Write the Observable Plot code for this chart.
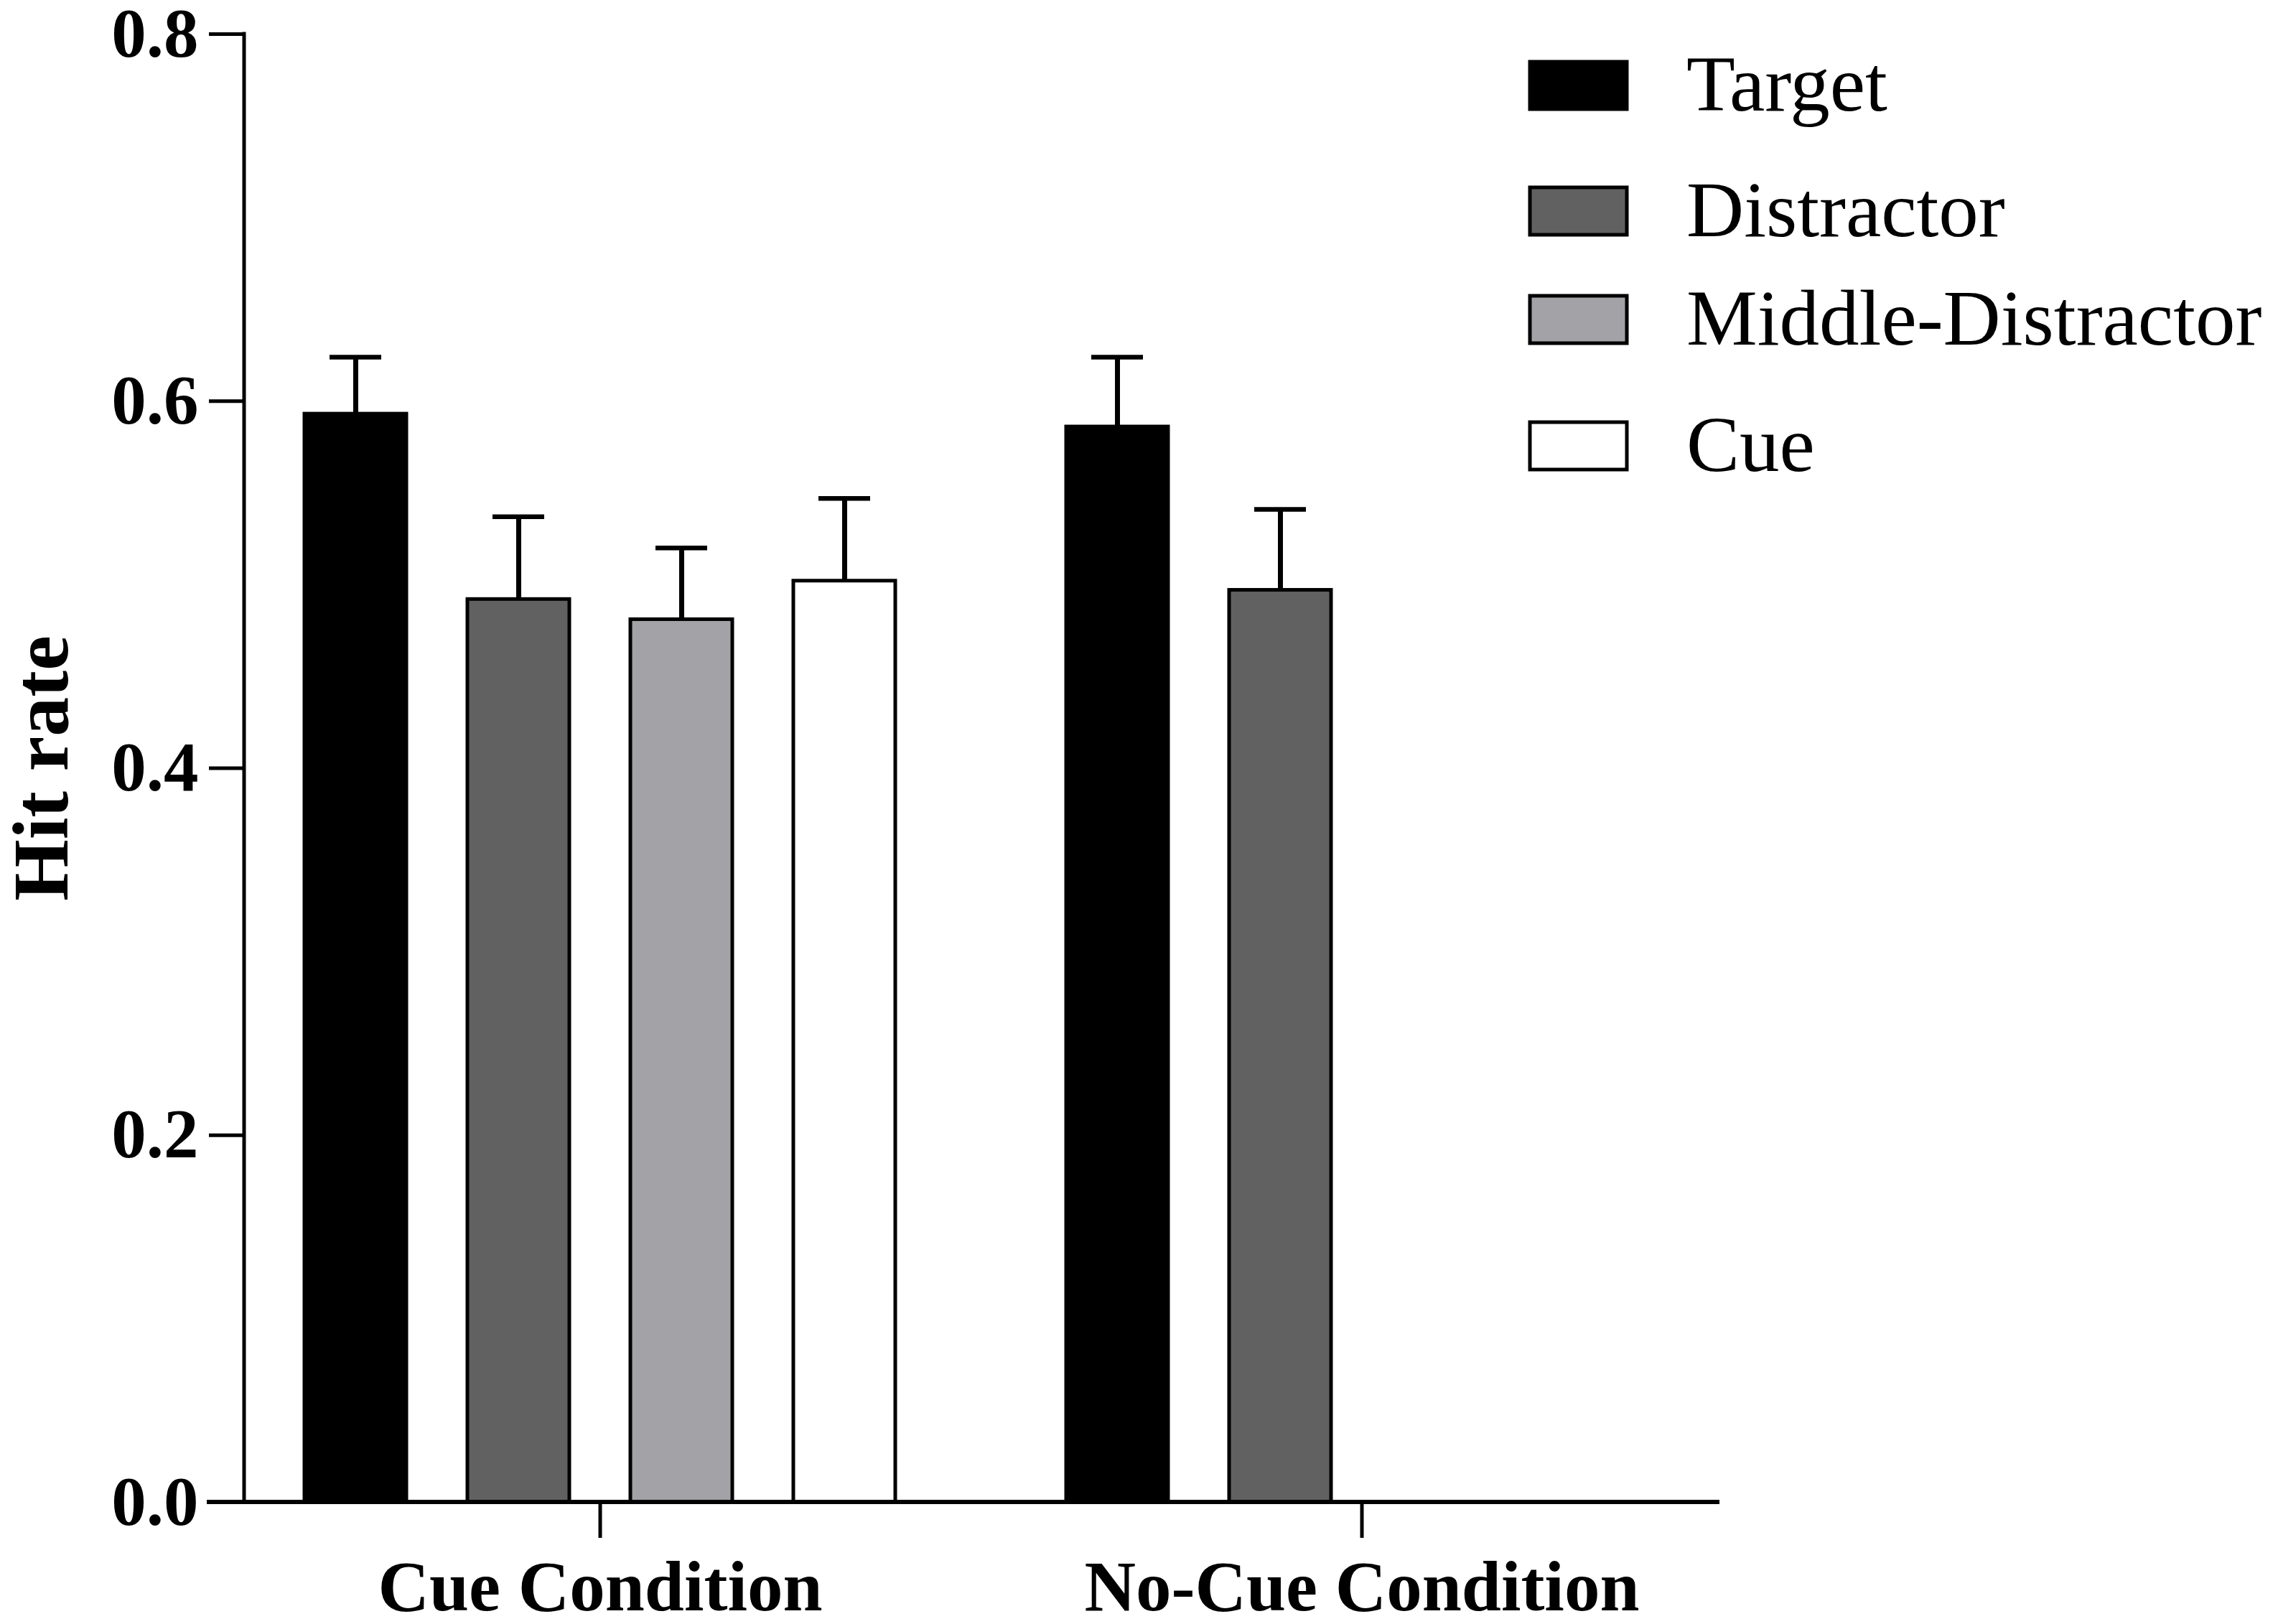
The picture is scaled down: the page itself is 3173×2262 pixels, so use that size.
<!DOCTYPE html>
<html><head><meta charset="utf-8">
<script src="https://cdn.jsdelivr.net/npm/d3@7"></script>
<script src="https://cdn.jsdelivr.net/npm/@observablehq/plot@0.6"></script>
<style>
html,body{margin:0;padding:0;background:#fff;}
#wrap{position:relative;width:3173px;height:2262px;}
#wrap svg{position:absolute;left:0;top:0;}
</style></head><body><div id="wrap"></div>
<script>
const conditions = ["Cue Condition", "No-Cue Condition"];
const seriesNames = ["Target", "Distractor", "Middle-Distractor", "Cue"];
const seriesColors = ["#000000", "#616161", "#a3a2a7", "#ffffff"];
const cueValues = [0.593, 0.492, 0.481, 0.502];
const cueErrors = [0.031, 0.045, 0.039, 0.045];
const noCueValues = [0.586, 0.497];
const noCueErrors = [0.038, 0.044];
const yTicks = [0, 0.2, 0.4, 0.6, 0.8];
const yLabel = "Hit rate";

const rows = [];
cueValues.forEach((v, i) => rows.push({condition: conditions[0], series: seriesNames[i], value: v, err: cueErrors[i]}));
noCueValues.forEach((v, i) => rows.push({condition: conditions[1], series: seriesNames[i], value: v, err: noCueErrors[i]}));

const W = 3173, H = 2262;
const font = "'Liberation Serif','Times New Roman',serif";
const yTickSize = 49;

const plot = Plot.plot({
  width: W, height: H,
  marginLeft: 340, marginRight: 781, marginTop: 47, marginBottom: 170,
  style: {fontFamily: font, background: "#fff", color: "#000", overflow: "visible"},
  fx: {domain: conditions, paddingInner: 0.066, paddingOuter: 0},
  x: {domain: seriesNames, paddingInner: 0.373, paddingOuter: 0.36, axis: null},
  y: {domain: [0, 0.8]},
  color: {domain: seriesNames, range: seriesColors},
  marks: [
    Plot.axisY({ticks: yTicks, tickFormat: d => d.toFixed(1), tickSize: yTickSize, tickPadding: 15,
      strokeWidth: 5, fontSize: 97, fontWeight: "bold", label: null}),
    Plot.axisY({ticks: [], tickSize: 0, label: yLabel, labelAnchor: "center", labelOffset: 325,
      labelArrow: "none", fontSize: 110, fontWeight: "bold"}),
    Plot.axisFx({anchor: "bottom", tickSize: 50, strokeWidth: 5, tickPadding: 30,
      fontSize: 99, fontWeight: "bold", label: null}),
    Plot.barY(rows, {fx: "condition", x: "series", y: "value", fill: "series", stroke: "#000", strokeWidth: 5}),
    Plot.ruleX(rows, {fx: "condition", x: "series", y1: "value", y2: d => d.value + d.err, stroke: "#000", strokeWidth: 7}),
    Plot.tickY(rows, {fx: "condition", x: "series", y: d => d.value + d.err, stroke: "#000", strokeWidth: 6.5,
      insetLeft: 35, insetRight: 35})
  ]
});
document.getElementById("wrap").appendChild(plot);

// axis lines drawn from the plot's own scales
const ys = plot.scale("y"), fxs = plot.scale("fx");
const svg = d3.select(plot);
const x0 = fxs.apply(conditions[0]);
const x1 = fxs.apply(conditions[conditions.length - 1]) + fxs.bandwidth;
const g = svg.append("g").attr("stroke", "#000").attr("stroke-linecap", "square");
g.append("line").attr("x1", x0).attr("x2", x0).attr("y1", ys.apply(yTicks[yTicks.length - 1])).attr("y2", ys.apply(0)).attr("stroke-width", 5);
g.append("line").attr("x1", x0 - yTickSize).attr("x2", x1).attr("y1", ys.apply(0)).attr("y2", ys.apply(0)).attr("stroke-width", 6);

// legend
const legendTops = [86, 261, 412, 588];
const lg = d3.select("#wrap").append("svg").attr("width", W).attr("height", H)
  .style("pointer-events", "none");
seriesNames.forEach((s, i) => {
  lg.append("rect").attr("x", 2131).attr("y", legendTops[i]).attr("width", 135).attr("height", 66)
    .attr("fill", seriesColors[i]).attr("stroke", "#000").attr("stroke-width", 5);
  lg.append("text").attr("x", 2349).attr("y", legendTops[i] + 68)
    .attr("font-family", font).attr("font-size", 111).attr("fill", "#000").text(s);
});
</script></body></html>
